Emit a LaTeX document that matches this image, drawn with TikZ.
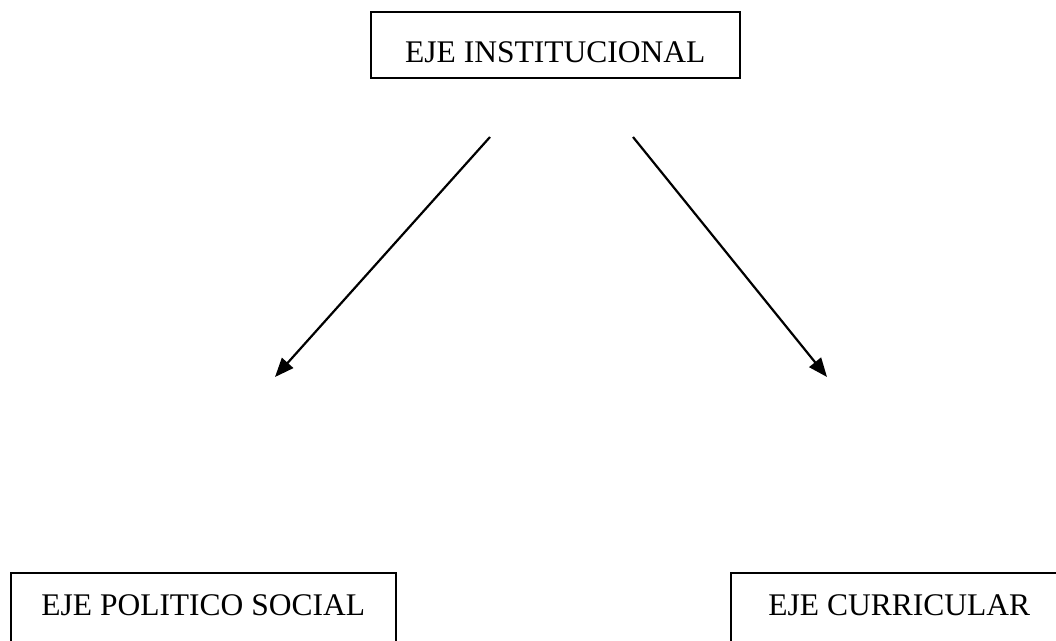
\documentclass[tikz,border=0pt]{standalone}
\usepackage{fontspec}
\setmainfont{Liberation Serif}
\usetikzlibrary{arrows.meta}
\begin{document}
\begin{tikzpicture}[x=1pt,y=-1pt,
  axisbox/.style={draw=black,line width=1.5pt,inner sep=0pt,font=\fontsize{31.5}{36}\selectfont,align=center},
  axisarrow/.style={line width=2.2pt,-{Triangle[length=19pt,width=15pt]}}]
\useasboundingbox (0,0) rectangle (1056,640);
\clip (0,0) rectangle (1056,640);
\fill[white] (0,0) rectangle (1056,640);
\node[axisbox,minimum width=369pt,text height=51pt,text depth=15pt,anchor=north west] (inst) at (370,11) {EJE INSTITUCIONAL};
\node[axisbox,minimum width=385pt,text height=43pt,text depth=45pt,anchor=north west] (pol) at (10,572) {EJE POLITICO SOCIAL};
\node[axisbox,minimum width=337pt,text height=43pt,text depth=45pt,anchor=north west] (cur) at (730,572) {EJE CURRICULAR};
\coordinate (a1s) at (490,137);
\coordinate (a1e) at (275,377);
\coordinate (a2s) at (633,137);
\coordinate (a2e) at (827,377);
\draw[axisarrow] (a1s) -- (a1e);
\draw[axisarrow] (a2s) -- (a2e);
\end{tikzpicture}
\end{document}
